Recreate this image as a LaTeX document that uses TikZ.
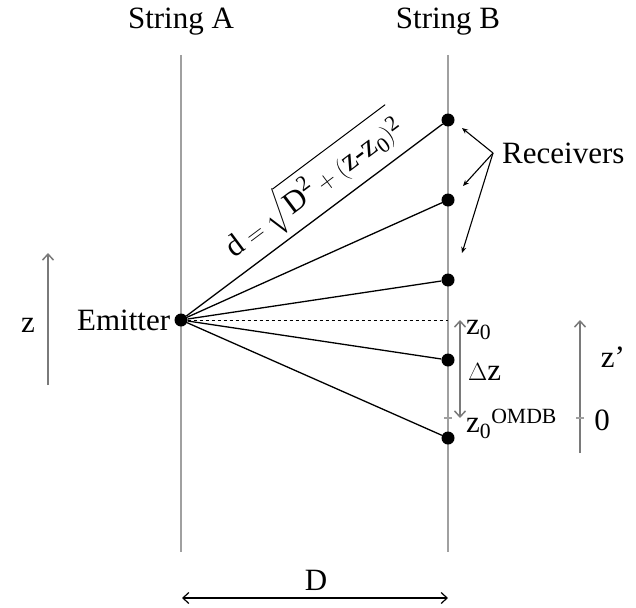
\documentclass[tikz,border=0pt]{standalone}
\usepackage{amsmath}
\usepackage{fontspec}
\setmainfont{Liberation Serif}
\usetikzlibrary{arrows.meta, positioning, calc}
\definecolor{StringGray}{HTML}{A0A0A0}
\definecolor{ArrowGray}{HTML}{7A7A7A}
\tikzset{
    string/.style={
        draw=StringGray,
        line width=2pt
    },
    ray/.style={
        draw=black,
        line width=1.3pt
    },
    dot/.style={
        circle,
        fill=black,
        inner sep=0pt,
        minimum size=13pt
    },
    label/.style={
        font=\fontsize{31}{35}\selectfont,
        inner sep=2pt
    },
    axis/.style={
        -{Straight Barb[length=6pt,width=11pt]},
        draw=ArrowGray,
        line width=1.5pt
    },
    pointer/.style={
        -{Stealth[length=6pt,width=5pt]},
        draw=black,
        line width=1.1pt
    },
    tick/.style={
        draw=StringGray,
        line width=1.5pt
    }
}

\begin{document}
\begin{tikzpicture}[x=1pt, y=-1pt]
                \useasboundingbox (0,0) rectangle (636,607);
                % Strings
                \coordinate (topA) at (181,55);
                \coordinate (botA) at (181,552);
                \coordinate (topB) at (448,55);
                \coordinate (botB) at (448,552);
                \node[label] (stringA) at (181,22) {String A};
                \node[label] (stringB) at (448,22) {String B};
                \draw[string] (topA) -- (botA);
                \draw[string] (topB) -- (botB);

                % Emitter and receivers
                \node[dot] (emitter) at (181,320) {};
                \node[label, left=2pt of emitter] (emlabel) {Emitter};
                \foreach \y [count=\i] in {120,200,280,360,438}
                    \node[dot] (r\i) at (448,\y) {};
                \coordinate (zref) at (448,320);

                \draw[ray] (emitter) -- node[label, sloped, above=3pt, pos=0.56] (dist)
                    {$\text{d} = \sqrt{\text{D}^{\text{2}} + (\text{z-z}_{\text{0}})^{\text{2}}}$} (r1);
                \foreach \i in {2,...,5}
                    \draw[ray] (emitter) -- (r\i);
                \draw[ray, dashed, line width=0.8pt] (emitter) -- (zref);

                % Receivers label
                \node[label, anchor=west] (receivers) at (500,153) {Receivers};
                \coordinate (apex) at (493,153);
                \coordinate (p1) at (462,128);
                \coordinate (p2) at (463,186);
                \coordinate (p3) at (462,253);
                \draw[pointer] (apex) -- (p1);
                \draw[pointer] (apex) -- (p2);
                \draw[pointer] (apex) -- (p3);

                % Offset between z0 and OMDB origin
                \coordinate (dtop) at (460,320);
                \coordinate (dbot) at (460,418);
                \draw[axis, {Straight Barb[length=6pt,width=11pt]}-{Straight Barb[length=6pt,width=11pt]}] (dbot) -- (dtop);
                \draw[tick] (444,418) -- (452,418);
                \node[label, anchor=west] (zzero) at (464,330) {$\text{z}_{\text{0}}$};
                \node[label, anchor=west] (dz) at (466,372) {$\Delta$z};
                \node[label, anchor=west] (zomdb) at (464,424) {${\text{z}_{\text{0}}}^{\text{OMDB}}$};

                % Axes z and z'
                \coordinate (zbot) at (48,385);
                \coordinate (ztop) at (48,253);
                \draw[axis] (zbot) -- (ztop);
                \node[label] (zlabel) at (28,325) {z};
                \coordinate (zpbot) at (580,453);
                \coordinate (zptop) at (580,320);
                \draw[axis] (zpbot) -- (zptop);
                \draw[tick] (576,418) -- (584,418);
                \node[label] (zplabel) at (613,357) {z'};
                \node[label] (zerolabel) at (602,420) {0};

                % Distance D
                \coordinate (dleft) at (182,598);
                \coordinate (dright) at (448,598);
                \draw[axis, {Straight Barb[length=6pt,width=11pt]}-{Straight Barb[length=6pt,width=11pt]}, draw=black, line width=1.2pt] (dleft) -- (dright);
                \node[label] (dlabel) at (316,580) {D};
            \end{tikzpicture}
\end{document}
